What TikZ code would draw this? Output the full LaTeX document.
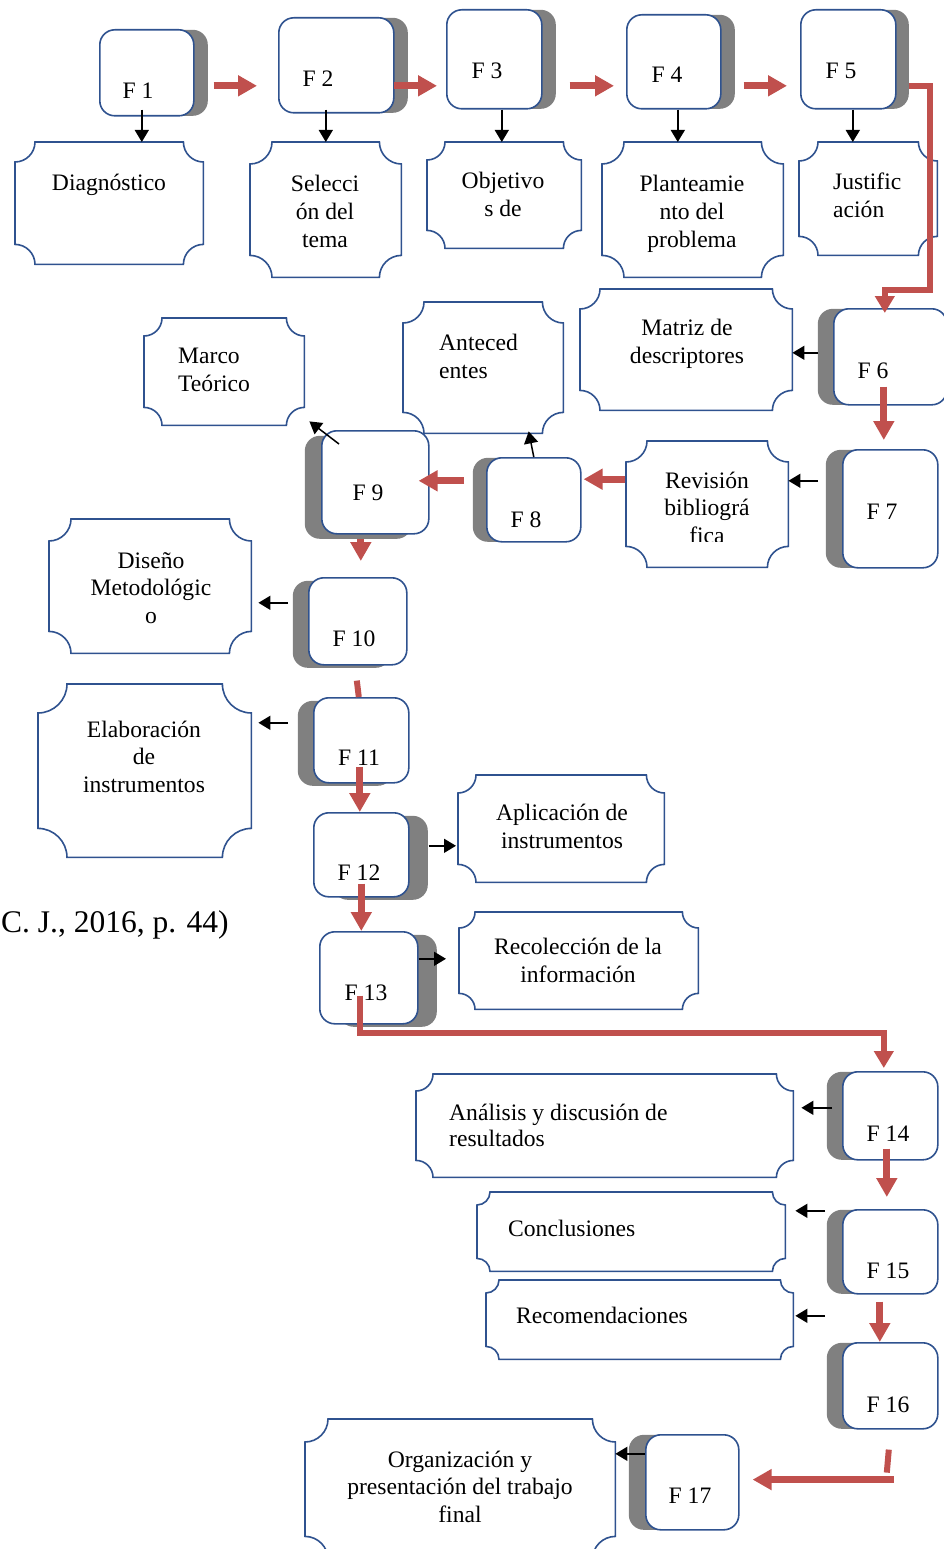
\documentclass[tikz,border=0pt]{standalone}
\usepackage{fontspec}
\setmainfont{Liberation Serif}
\usepackage{tikz}
\usetikzlibrary{arrows.meta, calc, shadows}
\usepackage{xcolor}
\definecolor{azulborde}{RGB}{47,82,143}
\definecolor{rojo}{RGB}{192,80,77}
\definecolor{sombra}{RGB}{128,128,128}

% contorno tipo placa (esquinas concavas) sobre un nodo ya puesto
\newcommand{\placa}[2]{%
  \draw[placaline] ($(#1.north west)+(#2,0)$) -- ($(#1.north east)+(-#2,0)$)
    .. controls +(0,0.55*#2) and +(-0.55*#2,0) .. ($(#1.north east)+(0,#2)$)
    -- ($(#1.south east)+(0,-#2)$)
    .. controls +(-0.55*#2,0) and +(0,-0.55*#2) .. ($(#1.south east)+(-#2,0)$)
    -- ($(#1.south west)+(#2,0)$)
    .. controls +(0,-0.55*#2) and +(0.55*#2,0) .. ($(#1.south west)+(0,-#2)$)
    -- ($(#1.north west)+(0,#2)$)
    .. controls +(0.55*#2,0) and +(0,0.55*#2) .. ($(#1.north west)+(#2,0)$) -- cycle;
}

\tikzset{
  fase/.style 2 args={draw=azulborde, line width=1.6pt, fill=white, rounded corners=15pt,
    anchor=north west, inner sep=0pt,
    general shadow={fill=sombra, shadow xshift=#1pt, shadow yshift=#2pt}},
  flabel/.style={font=\rmfamily\fontsize{23.6}{27.5}\selectfont, anchor=base, inner sep=0pt},
  placa/.style={anchor=north west, inner sep=0pt},
  placaline/.style={draw=azulborde, line width=1.6pt, fill=white},
  txt/.style={font=\rmfamily\fontsize{23.6}{27.5}\selectfont, inner sep=0pt, align=center, anchor=base},
  txtl/.style={txt, align=left, anchor=base west},
  redarr/.style={draw=rojo, line width=7pt, -{Triangle[length=19pt,width=20pt]}},
  redcon/.style={draw=rojo, line width=6pt, -{Triangle[length=17pt,width=19pt]}},
  redstub/.style={draw=rojo, line width=6pt},
  blk/.style={draw=black, line width=1.5pt, -{Triangle[length=12pt,width=14pt]}}
}

\begin{document}
\begin{tikzpicture}[x=1pt, y=-1pt]
    \useasboundingbox (0,0) rectangle (944,1549);

    % placas
    \node[placa, minimum width=188pt, minimum height=122pt] (diag) at (15,142) {};
    \node[placa, minimum width=151pt, minimum height=135pt] (selec) at (250,142) {};
    \node[placa, minimum width=154pt, minimum height=106pt] (obj) at (427,142) {};
    \node[placa, minimum width=181pt, minimum height=135pt] (plant) at (602,142) {};
    \node[placa, minimum width=138pt, minimum height=113pt] (just) at (799,142) {};
    \node[placa, minimum width=212pt, minimum height=121pt] (matriz) at (580,289) {};
    \node[placa, minimum width=160pt, minimum height=131pt] (antec) at (403,302) {};
    \node[placa, minimum width=160pt, minimum height=107pt] (marco) at (144,318) {};
    \node[placa, minimum width=162pt, minimum height=126pt] (revis) at (626,441) {};
    \node[placa, minimum width=202pt, minimum height=134pt] (diseno) at (49,519) {};
    \node[placa, minimum width=213pt, minimum height=173pt] (elab) at (38,684) {};
    \node[placa, minimum width=206pt, minimum height=107pt] (aplic) at (458,775) {};
    \node[placa, minimum width=239pt, minimum height=97pt] (recol) at (459,912) {};
    \node[placa, minimum width=377pt, minimum height=103pt] (anal) at (416,1074) {};
    \node[placa, minimum width=308pt, minimum height=79pt] (concl) at (477,1192) {};
    \node[placa, minimum width=307pt, minimum height=79pt] (recom) at (486,1280) {};
    \node[placa, minimum width=310pt, minimum height=140pt] (organ) at (305,1419) {};

    \placa{diag}{20} \placa{selec}{22} \placa{obj}{18} \placa{plant}{22}
    \placa{just}{19} \placa{matriz}{20} \placa{antec}{21} \placa{marco}{18}
    \placa{revis}{21} \placa{diseno}{22} \placa{elab}{29} \placa{aplic}{18}
    \placa{recol}{16} \placa{anal}{17} \placa{concl}{13} \placa{recom}{13}
    \placa{organ}{23}

    % textos (anclados en la linea base de la ultima linea)
    \node[txt] (tdiag) at (109,190) {Diagnóstico};
    \node[txt] (tselec) at (325,247) {Selecci\\ón del\\tema};
    \node[txt] (tobj) at (503,216) {Objetivo\\s de};
    \node[txt] (tplant) at (692,247) {Planteamie\\nto del\\problema};
    \node[txtl] (tjust) at (833,217) {Justific\\ación};
    \node[txt] (tmatriz) at (687,363) {Matriz de\\descriptores};
    \node[txtl] (tantec) at (439,378) {Anteced\\entes};
    \node[txtl] (tmarco) at (178,391) {Marco\\Teórico};
    \begin{scope}
        \clip (revis.north west) rectangle ([yshift=26pt]revis.south east);
        \node[txt] (trevis) at (707,543) {Revisión\\bibliográ\\fica};
    \end{scope}
    \node[txt] (tdiseno) at (151,623) {Diseño\\Metodológic\\o};
    \node[txt] (telab) at (144,792) {Elaboración\\de\\instrumentos};
    \node[txt] (taplic) at (562,848) {Aplicación de\\instrumentos};
    \node[txt] (trecol) at (578,982) {Recolección de la\\información};
    \node[txtl, font=\rmfamily\fontsize{23.6}{26}\selectfont] (tanal) at (449,1146) {Análisis y discusión de\\resultados};
    \node[txtl] (tconcl) at (508,1236) {Conclusiones};
    \node[txtl] (trecom) at (516,1323) {Recomendaciones};
    \node[txt] (torgan) at (460,1522) {Organización y\\presentación del trabajo\\final};

    \node[anchor=base west, inner sep=0pt, font=\rmfamily\fontsize{31.5}{36}\selectfont] (cita) at (1,932) {C. J., 2016, p. 44)};

    % fases
    \node[fase={14}{0}, minimum width=94pt, minimum height=86pt] (f1) at (99,29) {};
    \node[fase={14}{0}, minimum width=115pt, minimum height=95pt] (f2) at (278,17) {};
    \node[fase={14}{0}, minimum width=95pt, minimum height=99pt] (f3) at (446,9) {};
    \node[fase={14}{0}, minimum width=94pt, minimum height=94pt] (f4) at (626,14) {};
    \node[fase={13}{0}, minimum width=95pt, minimum height=99pt] (f5) at (800,9) {};
    \node[fase={-16}{0}, minimum width=113pt, minimum height=96pt] (f6) at (833,308) {};
    \node[fase={-17}{0}, minimum width=95pt, minimum height=118pt] (f7) at (842,449) {};
    \node[fase={-14}{0}, minimum width=94pt, minimum height=84pt] (f8) at (486,457) {};
    \node[fase={-17}{-5}, minimum width=107pt, minimum height=103pt] (f9) at (321,430) {};
    \node[fase={-16}{-3}, minimum width=98pt, minimum height=87pt] (f10) at (308,577) {};
    \node[fase={-16}{-3}, minimum width=95pt, minimum height=85pt] (f11) at (313,697) {};
    \node[fase={19}{-3}, minimum width=95pt, minimum height=84pt] (f12) at (313,812) {};
    \node[fase={19}{-3}, minimum width=98pt, minimum height=92pt] (f13) at (319,931) {};
    \node[fase={-16}{0}, minimum width=95pt, minimum height=88pt] (f14) at (842,1071) {};
    \node[fase={-16}{0}, minimum width=95pt, minimum height=84pt] (f15) at (842,1209) {};
    \node[fase={-16}{0}, minimum width=95pt, minimum height=86pt] (f16) at (842,1342) {};
    \node[fase={-17}{0}, minimum width=93pt, minimum height=95pt] (f17) at (645,1434) {};

    \node[flabel] (l1) at (138,99) {F 1};
    \node[flabel] (l2) at (318,87) {F 2};
    \node[flabel] (l3) at (487,79) {F 3};
    \node[flabel] (l4) at (667,83) {F 4};
    \node[flabel] (l5) at (841,79) {F 5};
    \node[flabel] (l6) at (873,378) {F 6};
    \node[flabel] (l7) at (882,519) {F 7};
    \node[flabel] (l8) at (526,527) {F 8};
    \node[flabel] (l9) at (368,500) {F 9};
    \node[flabel] (l10) at (354,646) {F 10};
    \node[flabel] (l11) at (359,765) {F 11};
    \node[flabel] (l12) at (359,880) {F 12};
    \node[flabel] (l13) at (366,1000) {F 13};
    \node[flabel] (l14) at (888,1141) {F 14};
    \node[flabel] (l15) at (888,1278) {F 15};
    \node[flabel] (l16) at (888,1412) {F 16};
    \node[flabel] (l17) at (690,1503) {F 17};

    % flechas negras
    \draw[blk] ([xshift=-5pt,yshift=7pt]f1.south) -- ([xshift=-5pt]f1.south |- diag.north);
    \draw[blk] ([xshift=-10.5pt,yshift=4pt]f2.south) -- ([xshift=-10.5pt]f2.south |- selec.north);
    \draw[blk] ([xshift=7.5pt]f3.south) -- ([xshift=7.5pt]f3.south |- obj.north);
    \draw[blk] ([xshift=4pt]f4.south) -- ([xshift=4pt]f4.south |- plant.north);
    \draw[blk] ([xshift=4.5pt]f5.south) -- ([xshift=4.5pt]f5.south |- just.north);
    \draw[blk] ([xshift=-15pt,yshift=4pt]f6.west) -- ([yshift=4pt]f6.west -| matriz.east);
    \draw[blk] ([xshift=-24pt,yshift=28pt]f7.west) -- ([yshift=28pt]f7.west -| revis.east);
    \draw[blk] (f8.north) -- ([xshift=45.5pt,yshift=2pt]antec.south);
    \draw[blk] ([xshift=18pt,yshift=-14pt]f9.north west) -- ([xshift=5pt,yshift=4pt]marco.south east);
    \draw[blk] ([xshift=-20pt,yshift=18.5pt]f10.west) -- ([xshift=7pt,yshift=18.5pt]f10.west -| diseno.east);
    \draw[blk] ([xshift=-25pt,yshift=17.5pt]f11.west) -- ([xshift=7pt,yshift=17.5pt]f11.west -| elab.east);
    \draw[blk] ([xshift=19pt,yshift=9pt]f12.east) -- ([xshift=-2pt,yshift=9pt]f12.east -| aplic.west);
    \draw[blk] ([yshift=19pt]f13.east) -- ([xshift=-13pt,yshift=19pt]f13.east -| recol.west);
    \draw[blk] ([xshift=-10pt,yshift=8pt]f14.west) -- ([xshift=8pt,yshift=8pt]f14.west -| anal.east);
    \draw[blk] ([xshift=-17pt,yshift=41pt]f15.west) -- ([xshift=10pt,yshift=41pt]f15.west -| concl.east);
    \draw[blk] ([xshift=-17pt,yshift=-64pt]f15.west) -- ([xshift=2pt,yshift=-64pt]f15.west -| recom.east);
    \draw[blk] ([yshift=28.5pt]f17.west) -- ([yshift=28.5pt]f17.west -| organ.east);

    % flechas rojas
    \draw[redarr] ([xshift=19pt,yshift=-13pt]f1.east) -- ([xshift=-21pt,yshift=-13pt]f1.east -| f2.west);
    \draw[redarr] ([xshift=-1pt,yshift=-20.5pt]f2.east) -- ([xshift=-9pt,yshift=-20.5pt]f2.east -| f3.west);
    \draw[redarr] ([xshift=27pt,yshift=-26.5pt]f3.east) -- ([xshift=-12pt,yshift=-26.5pt]f3.east -| f4.west);
    \draw[redarr] ([xshift=22pt,yshift=-24pt]f4.east) -- ([xshift=-13pt,yshift=-24pt]f4.east -| f5.west);
    \draw[redcon] ([xshift=12pt,yshift=-26.5pt]f5.east) -- ++(21,0)
        |- ([xshift=-5.5pt,yshift=18pt]f6.north) -- ([xshift=-5.5pt,yshift=-5pt]f6.north);
    \draw[redarr] ([xshift=-6.5pt,yshift=19pt]f6.south) -- ([xshift=-6.5pt,yshift=9pt]f6.south |- f7.north);
    \draw[redarr] ([xshift=-1pt,yshift=25pt]revis.west) -- ([xshift=2pt,yshift=25pt]revis.west -| f8.east);
    \draw[redarr] ([xshift=-22pt,yshift=19pt]f8.west) -- ([xshift=-11pt,yshift=19pt]f8.west -| f9.east);
    \draw[redarr] ([xshift=-14.5pt,yshift=-4pt]f9.south) -- ([xshift=-14.5pt,yshift=16pt]f9.south |- f10.north);
    \draw[redstub] ([xshift=-1pt,yshift=-15pt]f10.south) -- ([xshift=1pt]f10.south |- f11.north);
    \draw[redarr] ([xshift=-1.5pt,yshift=17pt]f11.south) -- ([xshift=-1.5pt]f11.south |- f12.north);
    \draw[redarr] ([yshift=14pt]f12.south) -- (f12.south |- f13.north);
    \draw[redcon] ([xshift=-9pt,yshift=29pt]f13.south)
        |- ([xshift=-6.5pt,yshift=38pt]f14.north) -- ([xshift=-6.5pt,yshift=3pt]f14.north);
    \draw[redarr] ([xshift=-3.5pt,yshift=12pt]f14.south) -- ([xshift=-3.5pt,yshift=12pt]f14.south |- f15.north);
    \draw[redarr] ([xshift=-10.5pt,yshift=-7pt]f15.south) -- ([xshift=-10.5pt]f15.south |- f16.north);
    \draw[redstub] ([xshift=-1.5pt,yshift=-20pt]f16.south) -- ([xshift=-3.5pt,yshift=-43pt]f16.south);
    \draw[redarr] ([xshift=3.5pt,yshift=-50pt]f16.south) -- ([xshift=13pt,yshift=-50pt]f16.south -| f17.east);
\end{tikzpicture}
\end{document}
